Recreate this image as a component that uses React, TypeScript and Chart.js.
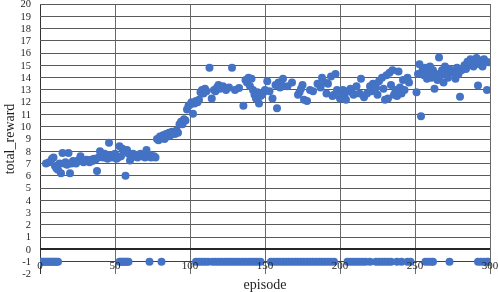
import React, { useEffect, useRef } from "react";
import { Chart, registerables } from "chart.js";

Chart.register(...registerables);

const xTickLabels = [0, 50, 100, 150, 200, 250, 300];
const yTickLabels = [-2, -1, 0, 1, 2, 3, 4, 5, 6, 7, 8, 9, 10, 11, 12, 13, 14, 15, 16, 17, 18, 19, 20];
const xTitle = "episode";
const yTitle = "total_reward";

// episodes that ended with reward -1
const failEpisodes = [
  0, 1, 2, 3, 4, 5, 6, 7, 8, 9, 10, 11, 12,
  53, 54, 55, 56, 57, 58, 59,
  73, 81,
  104, 106, 108, 110, 112, 115, 117, 119, 121, 123, 125, 127, 129, 131, 133, 135, 137, 139, 141, 143, 145, 147,
  154, 156, 158, 160, 162, 164, 166, 168, 170, 172, 174, 176, 178, 180, 182, 184, 186, 188, 190, 192, 194, 196,
  205, 207, 209, 211, 213, 215, 217, 220,
  224, 226, 228, 230, 232, 234,
  238, 241, 245, 247,
  257, 259, 261, 262,
  273,
  292, 294, 296, 298, 299,
];

// [episode, reward] for the positive-reward episodes
const rewardPoints: [number, number][] = [
  [4, 7.0], [6, 7.1], [8, 7.4], [9, 7.5], [10, 6.8], [11, 6.6], [12, 6.5], [13, 7.0], [14, 6.2], [15, 7.85],
  [16, 7.0], [17, 7.1], [18, 6.9], [19, 7.85], [20, 6.2], [21, 7.0], [22, 7.2], [23, 7.1], [24, 7.0], [25, 7.2],
  [26, 7.3], [27, 7.6], [28, 7.2], [29, 7.1], [30, 7.2], [31, 7.3], [32, 7.2], [33, 7.1], [34, 7.3], [35, 7.2],
  [36, 7.4], [37, 7.3], [38, 6.4], [39, 7.5], [40, 8.0], [41, 7.7], [42, 7.5], [43, 7.8], [44, 7.6], [45, 7.4],
  [46, 8.7], [47, 7.7], [48, 7.5], [49, 7.6], [50, 7.8], [51, 7.4], [52, 7.5], [53, 8.4], [54, 7.6], [55, 8.2],
  [56, 8.0], [57, 6.0], [58, 8.1], [59, 7.8], [60, 7.25], [61, 7.5], [62, 7.8], [63, 7.6], [64, 7.7], [65, 7.5],
  [66, 7.6], [67, 7.8], [68, 7.6], [69, 7.7], [70, 7.5], [71, 8.1], [72, 7.6], [73, 7.7], [74, 7.5], [75, 7.6],
  [76, 7.6], [77, 7.5], [78, 9.0], [79, 8.9], [80, 9.2], [81, 9.1], [82, 9.3], [83, 9.0], [84, 9.4], [85, 9.2],
  [86, 9.5], [87, 9.3], [88, 9.6], [89, 9.5], [90, 9.4], [91, 9.7], [92, 9.5], [93, 10.2], [94, 10.4], [95, 10.2],
  [96, 10.6], [97, 10.5], [98, 11.4], [99, 11.7], [100, 11.8], [101, 12.0], [102, 11.05], [103, 11.9], [104, 12.1], [105, 12.0],
  [106, 12.2], [107, 12.8], [108, 13.0], [109, 12.7], [110, 13.1], [111, 12.9], [113, 14.8], [114.5, 12.3], [116, 13.0], [117, 12.9],
  [118, 13.2], [119, 13.4], [120, 13.1], [122, 13.3], [124, 13.0], [126, 13.2], [128, 14.8], [130, 13.0], [132.7, 13.15], [135.6, 11.7],
  [137, 13.8], [138, 13.6], [139, 14.0], [140, 13.3], [141, 13.9], [142, 13.0], [143, 12.6], [144, 12.3], [145, 12.8], [146, 11.9],
  [147, 12.5], [148, 12.6], [149, 12.8], [150, 13.0], [151.5, 13.7], [153, 12.9], [155, 12.3], [157, 13.4], [158, 11.5], [159, 13.6],
  [160, 13.2], [161, 13.4], [162, 13.9], [165, 13.3], [168, 13.6], [172, 12.6], [173, 12.8], [174, 13.1], [175, 13.4], [176, 12.2],
  [178, 12.1], [180, 13.0], [182, 12.9], [185, 13.5], [187, 13.2], [188, 14.0], [190, 13.6], [191, 12.7], [192, 13.5], [194, 14.1],
  [195, 12.5], [196, 12.6], [197, 14.3], [198, 13.0], [200, 12.3], [201, 12.8], [202, 13.0], [203, 12.6], [204, 12.2], [205, 12.9],
  [207, 13.1], [208, 12.8], [209, 12.6], [211, 13.3], [213, 12.7], [214, 13.9], [216, 12.4], [218, 12.7], [220, 13.3], [221, 12.9],
  [222, 13.5], [224, 13.2], [225, 12.6], [226, 13.7], [228, 14.0], [229, 13.1], [230, 12.2], [231, 14.2], [232, 12.3], [233, 14.4],
  [234, 13.4], [235, 14.6], [236, 12.6], [237, 13.0], [238, 12.5], [239, 14.5], [240, 13.2], [241, 12.7], [242, 13.8], [243, 13.0],
  [245, 14.0], [246, 13.6], [251, 12.8], [252, 14.3], [253, 15.1], [254, 10.85], [255, 14.6], [256, 14.2], [257, 14.8], [258, 13.9],
  [259, 14.5], [260, 14.9], [261, 14.0], [262, 14.6], [263, 13.1], [264, 14.3], [265, 13.8], [266, 15.65], [267, 14.2], [268, 14.6],
  [269, 13.6], [270, 14.9], [271, 14.3], [272, 14.0], [273, 14.7], [274, 14.5], [276, 14.4], [277, 13.9], [278, 14.8], [279, 14.3],
  [280, 12.45], [281, 14.6], [283, 15.0], [284, 14.7], [285, 15.3], [286, 15.0], [287, 15.5], [288, 15.2], [289, 14.9], [290, 15.4],
  [291, 15.6], [292, 13.35], [293, 15.1], [294, 15.4], [295, 14.9], [296, 15.5], [297, 15.3], [298, 13.0], [299, 15.25],
];

const FONT = '"Liberation Serif", "Times New Roman", serif';
const POINT_COLOR = "#4472C4";
const TEXT_COLOR = "#1f1f1f";

const labelsPlugin = {
  id: "customLabels",
  afterDatasetsDraw(chart: any) {
    const { ctx, scales, chartArea } = chart;
    const xs = scales.x;
    const ys = scales.y;
    ctx.save();
    ctx.fillStyle = TEXT_COLOR;
    // y tick labels
    ctx.font = `10.5px ${FONT}`;
    ctx.textAlign = "right";
    ctx.textBaseline = "middle";
    yTickLabels.forEach((v) => {
      ctx.fillText(String(v), 31, ys.getPixelForValue(v) + 0.5);
    });
    // x tick labels along the -1 line
    ctx.font = `11px ${FONT}`;
    ctx.textAlign = "center";
    ctx.textBaseline = "alphabetic";
    const yLine = ys.getPixelForValue(-1);
    xTickLabels.forEach((v) => {
      ctx.fillText(String(v), xs.getPixelForValue(v), yLine + 7.5);
    });
    // axis titles
    ctx.font = `14px ${FONT}`;
    ctx.textAlign = "center";
    ctx.textBaseline = "alphabetic";
    ctx.fillText(xTitle, (chartArea.left + chartArea.right) / 2, 289);
    ctx.save();
    ctx.translate(10, (chartArea.top + chartArea.bottom) / 2);
    ctx.rotate(-Math.PI / 2);
    ctx.textBaseline = "middle";
    ctx.fillText(yTitle, 0, 0);
    ctx.restore();
    ctx.restore();
  },
};

export default function App() {
  const canvasRef = useRef<HTMLCanvasElement | null>(null);

  useEffect(() => {
    if (!canvasRef.current) return;
    const chart = new Chart(canvasRef.current, {
      type: "scatter",
      data: {
        datasets: [
          {
            data: rewardPoints.map(([x, y]) => ({ x, y })),
            backgroundColor: POINT_COLOR,
            borderColor: POINT_COLOR,
            borderWidth: 0,
            pointRadius: 4,
          },
          {
            data: failEpisodes.map((x) => ({ x, y: -1 })),
            backgroundColor: POINT_COLOR,
            borderColor: POINT_COLOR,
            borderWidth: 0,
            pointRadius: 4,
          },
        ],
      },
      options: {
        responsive: false,
        animation: false,
        events: [],
        layout: { padding: { left: 40, right: 8, top: 4, bottom: 18 } },
        plugins: {
          legend: { display: false },
          tooltip: { enabled: false },
        },
        scales: {
          x: {
            type: "linear",
            min: 0,
            max: 300,
            ticks: { display: false, stepSize: 50 },
            border: { display: false },
            grid: {
              drawTicks: false,
              color: (c: any) => (c.tick && c.tick.value === 0 ? "#333333" : "#6a6a6a"),
              lineWidth: 1,
            },
          },
          y: {
            type: "linear",
            min: -2,
            max: 20,
            ticks: { display: false, stepSize: 1 },
            border: { display: false },
            grid: {
              drawTicks: false,
              color: (c: any) => {
                const v = c.tick ? c.tick.value : null;
                if (v === -2) return "rgba(0,0,0,0)";
                if (v === 0) return "#262626";
                if (v === -1) return "#404040";
                return "#5a5a5a";
              },
              lineWidth: (c: any) => (c.tick && c.tick.value === 0 ? 2 : 1),
            },
          },
        },
      },
      plugins: [labelsPlugin],
    });
    return () => chart.destroy();
  }, []);

  return (
    <div style={{ position: "absolute", left: 0, top: 0, width: 498, height: 292, background: "#fff" }}>
      <canvas ref={canvasRef} width={498} height={292} style={{ display: "block" }} />
    </div>
  );
}
